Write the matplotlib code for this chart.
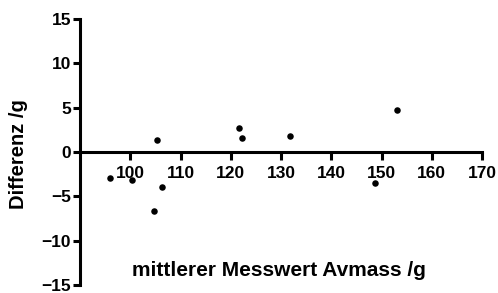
import matplotlib
matplotlib.use("Agg")
import matplotlib.pyplot as plt

x_vals = [96.0, 100.3, 105.4, 106.3, 104.8, 121.6, 122.3, 131.7, 148.8, 153.1]
y_vals = [-2.9, -3.2, 1.4, -4.0, -6.7, 2.7, 1.6, 1.8, -3.5, 4.7]
x_ticks = [100, 110, 120, 130, 140, 150, 160, 170]
y_ticks = [-15, -10, -5, 0, 5, 10, 15]

plt.rcParams['font.family'] = ['Liberation Sans', 'DejaVu Sans']
fig = plt.figure(figsize=(4.98, 2.93), dpi=100)
ax = fig.add_axes([80/498, 1-285/293, (482-80)/498, (285-19)/293])
ax.scatter(x_vals, y_vals, s=22, color='black', zorder=3, linewidths=0)
ax.set_xlim(90, 170)
ax.set_ylim(-15, 15)
ax.spines['top'].set_visible(False)
ax.spines['right'].set_visible(False)
ax.spines['bottom'].set_position(('data', 0))
for s in ['left', 'bottom']:
    ax.spines[s].set_linewidth(2.2)
    ax.spines[s].set_capstyle('projecting')
ax.set_xticks(x_ticks)
ax.set_yticks(y_ticks)
ax.tick_params(axis='x', direction='out', length=6, width=2.2, labelsize=12.5, pad=4)
ax.tick_params(axis='y', direction='out', length=5, width=2.2, labelsize=12.5, pad=1.5)
for lab in ax.get_xticklabels():
    lab.set_fontweight('bold')
for lab in ax.get_yticklabels():
    lab.set_fontweight('bold')
    lab.set_verticalalignment('center_baseline')
fig.text(279/498, 1-271/293, 'mittlerer Messwert Avmass /g', ha='center', va='center',
         fontsize=15, fontweight='bold')
fig.text(19/498, 1-154/293, 'Differenz /g', ha='center', va='center', rotation=90,
         fontsize=14.5, fontweight='bold')
fig.savefig('out.png', dpi=100)
